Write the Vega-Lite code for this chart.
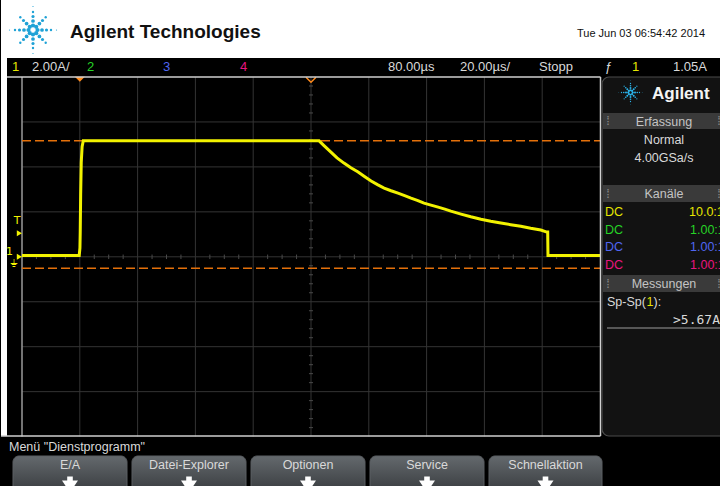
{
  "$schema": "https://vega.github.io/schema/vega-lite/v6.json",
  "width": 720,
  "height": 486,
  "autosize": {"type": "fit", "contains": "padding"},
  "padding": 0,
  "background": "#000000",
  "config": {"view": {"stroke": null}, "font": "Liberation Sans, Arial, sans-serif"},
  "resolve": {"scale": {"x": "independent", "y": "independent", "color": "independent", "size": "independent"}},
  "datasets": {
    "paper": [
      {"x0": 0, "x1": 720, "y0": 0, "y1": 58},
      {"x0": 0, "x1": 6, "y0": 58, "y1": 436}
    ],
    "frame": [
      {"x0": 6, "x1": 599.5, "y0": 77, "y1": 77},
      {"x0": 599.5, "x1": 599.5, "y0": 77, "y1": 436},
      {"x0": 0, "x1": 599.5, "y0": 436, "y1": 436}
    ],
    "gridT": [{"t": 0}, {"t": 20}, {"t": 40}, {"t": 60}, {"t": 80}, {"t": 100}, {"t": 120}, {"t": 140}, {"t": 160}],
    "gridI": [{"i": -6}, {"i": -4}, {"i": -2}, {"i": 0}, {"i": 2}, {"i": 4}, {"i": 6}],
    "ticksT": [
      {"t": -15}, {"t": -10}, {"t": -5}, {"t": 5}, {"t": 10}, {"t": 15}, {"t": 25}, {"t": 30}, {"t": 35},
      {"t": 45}, {"t": 50}, {"t": 55}, {"t": 65}, {"t": 70}, {"t": 75}, {"t": 85}, {"t": 90}, {"t": 95},
      {"t": 105}, {"t": 110}, {"t": 115}, {"t": 125}, {"t": 130}, {"t": 135}, {"t": 145}, {"t": 150},
      {"t": 155}, {"t": 165}, {"t": 170}, {"t": 175}
    ],
    "ticksI": [
      {"i": -7.6}, {"i": -7.2}, {"i": -6.8}, {"i": -6.4}, {"i": -5.6}, {"i": -5.2}, {"i": -4.8}, {"i": -4.4},
      {"i": -3.6}, {"i": -3.2}, {"i": -2.8}, {"i": -2.4}, {"i": -1.6}, {"i": -1.2}, {"i": -0.8}, {"i": -0.4},
      {"i": 0.4}, {"i": 0.8}, {"i": 1.2}, {"i": 1.6}, {"i": 2.4}, {"i": 2.8}, {"i": 3.2}, {"i": 3.6},
      {"i": 4.4}, {"i": 4.8}, {"i": 5.2}, {"i": 5.6}, {"i": 6.4}, {"i": 6.8}, {"i": 7.2}, {"i": 7.6}
    ],
    "cursors": [{"i": 5.16}, {"i": -0.51}],
    "ch1": [
      {"t": -20, "i": 0.06}, {"t": -0.2, "i": 0.06}, {"t": 0.05, "i": 0.4}, {"t": 0.15, "i": 1.1},
      {"t": 0.3, "i": 2.8}, {"t": 0.5, "i": 4.2}, {"t": 0.8, "i": 4.9}, {"t": 1.2, "i": 5.16},
      {"t": 82.8, "i": 5.16}, {"t": 84.5, "i": 4.95}, {"t": 86.9, "i": 4.66}, {"t": 89.0, "i": 4.4},
      {"t": 91.4, "i": 4.17}, {"t": 93.8, "i": 3.96}, {"t": 96.3, "i": 3.77}, {"t": 98.5, "i": 3.57},
      {"t": 100.8, "i": 3.37}, {"t": 103.0, "i": 3.21}, {"t": 105.3, "i": 3.06}, {"t": 107.7, "i": 2.94},
      {"t": 110.1, "i": 2.83}, {"t": 112.4, "i": 2.72}, {"t": 114.6, "i": 2.61}, {"t": 117.0, "i": 2.5},
      {"t": 119.1, "i": 2.39}, {"t": 121.5, "i": 2.3}, {"t": 124.0, "i": 2.21}, {"t": 126.3, "i": 2.12},
      {"t": 128.4, "i": 2.03}, {"t": 131.9, "i": 1.9}, {"t": 135.3, "i": 1.78}, {"t": 138.8, "i": 1.67},
      {"t": 142.2, "i": 1.58}, {"t": 145.7, "i": 1.5}, {"t": 149.1, "i": 1.43}, {"t": 152.6, "i": 1.36},
      {"t": 156.0, "i": 1.27}, {"t": 159.5, "i": 1.19}, {"t": 161.6, "i": 1.1}, {"t": 161.9, "i": 1.1},
      {"t": 162.0, "i": 0.06}, {"t": 180, "i": 0.06}
    ],
    "panel": [{"x0": 601, "x1": 740, "y0": 77, "y1": 436}],
    "panelBars": [
      {"x0": 602, "x1": 740, "y0": 113, "y1": 129},
      {"x0": 602, "x1": 740, "y0": 185, "y1": 202},
      {"x0": 602, "x1": 740, "y0": 275, "y1": 292}
    ],
    "buttons": [
      {"label": "E/A", "x0": 12, "x1": 126, "xc": 69},
      {"label": "Datei-Explorer", "x0": 131, "x1": 245, "xc": 188},
      {"label": "Optionen", "x0": 250, "x1": 364, "xc": 307},
      {"label": "Service", "x0": 369, "x1": 483, "xc": 426},
      {"label": "Schnellaktion", "x0": 488, "x1": 601, "xc": 544.5}
    ],
    "status": [
      {"x": 11, "text": "1", "tone": "1"},
      {"x": 31, "text": "2.00A/", "tone": "ui"},
      {"x": 86, "text": "2", "tone": "2"},
      {"x": 162, "text": "3", "tone": "3"},
      {"x": 239, "text": "4", "tone": "4"},
      {"x": 387, "text": "80.00µs", "tone": "ui"},
      {"x": 459, "text": "20.00µs/", "tone": "ui"},
      {"x": 538, "text": "Stopp", "tone": "ui"},
      {"x": 604, "text": "ƒ", "tone": "ui"},
      {"x": 631, "text": "1", "tone": "1"},
      {"x": 672, "text": "1.05A", "tone": "ui"}
    ],
    "panelL": [
      {"x": 604, "y": 216, "text": "DC", "tone": "1"},
      {"x": 604, "y": 233.5, "text": "DC", "tone": "2"},
      {"x": 604, "y": 251, "text": "DC", "tone": "3"},
      {"x": 604, "y": 268.5, "text": "DC", "tone": "4"},
      {"x": 688, "y": 216, "text": "10.0:1", "tone": "1"},
      {"x": 689, "y": 233.5, "text": "1.00:1", "tone": "2"},
      {"x": 689, "y": 251, "text": "1.00:1", "tone": "3"},
      {"x": 689, "y": 268.5, "text": "1.00:1", "tone": "4"},
      {"x": 606, "y": 306, "text": "Sp-Sp(", "tone": "ui"},
      {"x": 645.5, "y": 306, "text": "1", "tone": "1"},
      {"x": 652.5, "y": 306, "text": "):", "tone": "ui"}
    ],
    "panelC": [
      {"x": 663, "y": 125.5, "text": "Erfassung", "tone": "bar"},
      {"x": 663, "y": 144, "text": "Normal", "tone": "ui"},
      {"x": 663, "y": 161.5, "text": "4.00GSa/s", "tone": "ui"},
      {"x": 663, "y": 198, "text": "Kanäle", "tone": "bar"},
      {"x": 663, "y": 288, "text": "Messungen", "tone": "bar"},
      {"x": 607, "y": 125, "text": "⁞", "tone": "dim"},
      {"x": 718, "y": 125, "text": "⁞", "tone": "dim"},
      {"x": 607, "y": 198, "text": "⁞", "tone": "dim"},
      {"x": 718, "y": 198, "text": "⁞", "tone": "dim"},
      {"x": 607, "y": 288, "text": "⁞", "tone": "dim"},
      {"x": 718, "y": 288, "text": "⁞", "tone": "dim"}
    ],
    "spark": [
      {"dx": 4.5, "dy": 0, "ring": 1}, {"dx": 9, "dy": 0, "ring": 2}, {"dx": 13.5, "dy": 0, "ring": 3}, {"dx": 18, "dy": 0, "ring": 4}, {"dx": 23.5, "dy": 0, "ring": 5},
      {"dx": -4.5, "dy": 0, "ring": 1}, {"dx": -9, "dy": 0, "ring": 2}, {"dx": -13.5, "dy": 0, "ring": 3}, {"dx": -18, "dy": 0, "ring": 4}, {"dx": -23.5, "dy": 0, "ring": 5},
      {"dx": 0, "dy": -4.5, "ring": 1}, {"dx": 0, "dy": -9, "ring": 2}, {"dx": 0, "dy": -13.5, "ring": 3}, {"dx": 0, "dy": -18, "ring": 4}, {"dx": 0, "dy": -23.5, "ring": 5},
      {"dx": 0, "dy": 4.5, "ring": 1}, {"dx": 0, "dy": 9, "ring": 2}, {"dx": 0, "dy": 13.5, "ring": 3}, {"dx": 0, "dy": 18, "ring": 4}, {"dx": 0, "dy": 23.5, "ring": 5},
      {"dx": 3.2, "dy": -3.2, "ring": 1}, {"dx": 6.4, "dy": -6.4, "ring": 2}, {"dx": 9.5, "dy": -9.5, "ring": 3}, {"dx": 12.7, "dy": -12.7, "ring": 4},
      {"dx": -3.2, "dy": -3.2, "ring": 1}, {"dx": -6.4, "dy": -6.4, "ring": 2}, {"dx": -9.5, "dy": -9.5, "ring": 3}, {"dx": -12.7, "dy": -12.7, "ring": 4},
      {"dx": 3.2, "dy": 3.2, "ring": 1}, {"dx": 6.4, "dy": 6.4, "ring": 2}, {"dx": 9.5, "dy": 9.5, "ring": 3}, {"dx": 12.7, "dy": 12.7, "ring": 4},
      {"dx": -3.2, "dy": 3.2, "ring": 1}, {"dx": -6.4, "dy": 6.4, "ring": 2}, {"dx": -9.5, "dy": 9.5, "ring": 3}, {"dx": -12.7, "dy": 12.7, "ring": 4}
    ]
  },
  "layer": [
    {
      "data": {"name": "paper"},
      "mark": {"type": "rect", "fill": "#ffffff"},
      "encoding": {
        "x": {"field": "x0", "type": "quantitative", "scale": {"domain": [0, 720], "range": [0, 720], "nice": false, "zero": false}, "axis": null},
        "x2": {"field": "x1"},
        "y": {"field": "y0", "type": "quantitative", "scale": {"domain": [0, 486], "range": [0, 486], "nice": false, "zero": false}, "axis": null},
        "y2": {"field": "y1"}
      }
    },
    {
      "data": {"name": "gridT"},
      "mark": {"type": "rule", "color": "#343434", "strokeWidth": 1},
      "encoding": {
        "x": {"field": "t", "type": "quantitative", "scale": {"domain": [-20, 180], "range": [21, 599], "nice": false, "zero": false}, "axis": null},
        "y": {"datum": -8, "type": "quantitative", "scale": {"domain": [-8, 8], "range": [436.6, 77], "nice": false, "zero": false}, "axis": null},
        "y2": {"datum": 8}
      }
    },
    {
      "data": {"name": "gridI"},
      "mark": {"type": "rule", "color": "#343434", "strokeWidth": 1},
      "encoding": {
        "x": {"datum": -20, "type": "quantitative", "scale": {"domain": [-20, 180], "range": [21, 599], "nice": false, "zero": false}, "axis": null},
        "x2": {"datum": 180},
        "y": {"field": "i", "type": "quantitative", "scale": {"domain": [-8, 8], "range": [436.6, 77], "nice": false, "zero": false}, "axis": null}
      }
    },
    {
      "data": {"name": "ticksT"},
      "mark": {"type": "rule", "color": "#4a4a4a", "strokeWidth": 1},
      "encoding": {
        "x": {"field": "t", "type": "quantitative", "scale": {"domain": [-20, 180], "range": [21, 599], "nice": false, "zero": false}, "axis": null},
        "y": {"datum": -0.1, "type": "quantitative", "scale": {"domain": [-8, 8], "range": [436.6, 77], "nice": false, "zero": false}, "axis": null},
        "y2": {"datum": 0.1}
      }
    },
    {
      "data": {"name": "ticksI"},
      "mark": {"type": "rule", "color": "#4a4a4a", "strokeWidth": 1},
      "encoding": {
        "x": {"datum": 79.3, "type": "quantitative", "scale": {"domain": [-20, 180], "range": [21, 599], "nice": false, "zero": false}, "axis": null},
        "x2": {"datum": 80.7},
        "y": {"field": "i", "type": "quantitative", "scale": {"domain": [-8, 8], "range": [436.6, 77], "nice": false, "zero": false}, "axis": null}
      }
    },
    {
      "data": {"values": [{}]},
      "mark": {"type": "rule", "color": "#9a9a9a", "strokeWidth": 1.5},
      "encoding": {
        "x": {"datum": -20, "type": "quantitative", "scale": {"domain": [-20, 180], "range": [21, 599], "nice": false, "zero": false}, "axis": null},
        "y": {"datum": -8, "type": "quantitative", "scale": {"domain": [-8, 8], "range": [436.6, 77], "nice": false, "zero": false}, "axis": null},
        "y2": {"datum": 8}
      }
    },
    {
      "data": {"name": "cursors"},
      "mark": {"type": "rule", "color": "#e4700a", "strokeWidth": 1.5, "strokeDash": [9, 4]},
      "encoding": {
        "x": {"datum": -20, "type": "quantitative", "scale": {"domain": [-20, 180], "range": [21, 599], "nice": false, "zero": false}, "axis": null},
        "x2": {"datum": 180},
        "y": {"field": "i", "type": "quantitative", "scale": {"domain": [-8, 8], "range": [436.6, 77], "nice": false, "zero": false}, "axis": null}
      }
    },
    {
      "data": {"name": "ch1"},
      "mark": {"type": "line", "color": "#f2f200", "strokeWidth": 3},
      "encoding": {
        "x": {"field": "t", "type": "quantitative", "scale": {"domain": [-20, 180], "range": [21, 599], "nice": false, "zero": false}, "axis": null},
        "y": {"field": "i", "type": "quantitative", "scale": {"domain": [-8, 8], "range": [436.6, 77], "nice": false, "zero": false}, "axis": null}
      }
    },
    {
      "data": {"values": [{}]},
      "mark": {"type": "point", "shape": "M -1 -0.5 L 1 -0.5 L 0 0.5 Z", "filled": true, "fill": "#ff8a1c", "opacity": 1, "size": 100, "strokeWidth": 0},
      "encoding": {
        "x": {"datum": 0, "type": "quantitative", "scale": {"domain": [-20, 180], "range": [21, 599], "nice": false, "zero": false}, "axis": null},
        "y": {"datum": 7.9, "type": "quantitative", "scale": {"domain": [-8, 8], "range": [436.6, 77], "nice": false, "zero": false}, "axis": null}
      }
    },
    {
      "data": {"values": [{}]},
      "mark": {"type": "point", "shape": "M -1 -0.5 L 0 0.5 L 1 -0.5", "filled": false, "stroke": "#ff8a1c", "opacity": 1, "size": 100, "strokeWidth": 1.5},
      "encoding": {
        "x": {"datum": 80, "type": "quantitative", "scale": {"domain": [-20, 180], "range": [21, 599], "nice": false, "zero": false}, "axis": null},
        "y": {"datum": 7.88, "type": "quantitative", "scale": {"domain": [-8, 8], "range": [436.6, 77], "nice": false, "zero": false}, "axis": null}
      }
    },
    {
      "data": {"values": [{"level": 1.05}, {"level": 0}]},
      "mark": {"type": "point", "shape": "triangle-right", "filled": true, "fill": "#f2f200", "opacity": 1, "size": 36, "strokeWidth": 0},
      "encoding": {
        "x": {"datum": -20.9, "type": "quantitative", "scale": {"domain": [-20, 180], "range": [21, 599], "nice": false, "zero": false}, "axis": null},
        "y": {"field": "level", "type": "quantitative", "scale": {"domain": [-8, 8], "range": [436.6, 77], "nice": false, "zero": false}, "axis": null}
      }
    },
    {
      "data": {"values": [{"label": "T", "t": -21.7, "i": 1.6}, {"label": "1", "t": -24.3, "i": 0.2}, {"label": "⏚", "t": -22.7, "i": -0.3}]},
      "mark": {"type": "text", "color": "#f2f200", "fontSize": 11, "align": "center", "baseline": "middle", "font": "DejaVu Sans"},
      "encoding": {
        "x": {"field": "t", "type": "quantitative", "scale": {"domain": [-20, 180], "range": [21, 599], "nice": false, "zero": false}, "axis": null},
        "y": {"field": "i", "type": "quantitative", "scale": {"domain": [-8, 8], "range": [436.6, 77], "nice": false, "zero": false}, "axis": null},
        "text": {"field": "label"}
      }
    },
    {
      "data": {"name": "frame"},
      "mark": {"type": "rule", "color": "#cfcfcf", "strokeWidth": 1.5},
      "encoding": {
        "x": {"field": "x0", "type": "quantitative", "scale": {"domain": [0, 720], "range": [0, 720], "nice": false, "zero": false}, "axis": null},
        "x2": {"field": "x1"},
        "y": {"field": "y0", "type": "quantitative", "scale": {"domain": [0, 486], "range": [0, 486], "nice": false, "zero": false}, "axis": null},
        "y2": {"field": "y1"}
      }
    },
    {
      "data": {"name": "panel"},
      "mark": {"type": "rect", "fill": "#121212", "stroke": "#4a4a4a", "strokeWidth": 1.2, "cornerRadius": 7},
      "encoding": {
        "x": {"field": "x0", "type": "quantitative", "scale": {"domain": [0, 720], "range": [0, 720], "nice": false, "zero": false}, "axis": null},
        "x2": {"field": "x1"},
        "y": {"field": "y0", "type": "quantitative", "scale": {"domain": [0, 486], "range": [0, 486], "nice": false, "zero": false}, "axis": null},
        "y2": {"field": "y1"}
      }
    },
    {
      "data": {"name": "panelBars"},
      "mark": {"type": "rect", "fill": "#3a3a3a"},
      "encoding": {
        "x": {"field": "x0", "type": "quantitative", "scale": {"domain": [0, 720], "range": [0, 720], "nice": false, "zero": false}, "axis": null},
        "x2": {"field": "x1"},
        "y": {"field": "y0", "type": "quantitative", "scale": {"domain": [0, 486], "range": [0, 486], "nice": false, "zero": false}, "axis": null},
        "y2": {"field": "y1"}
      }
    },
    {
      "data": {"values": [{}]},
      "mark": {"type": "rule", "color": "#9c9c9c", "strokeWidth": 1.2},
      "encoding": {
        "x": {"datum": 606, "type": "quantitative", "scale": {"domain": [0, 720], "range": [0, 720], "nice": false, "zero": false}, "axis": null},
        "x2": {"datum": 720},
        "y": {"datum": 328, "type": "quantitative", "scale": {"domain": [0, 486], "range": [0, 486], "nice": false, "zero": false}, "axis": null}
      }
    },
    {
      "data": {"name": "buttons"},
      "mark": {
        "type": "rect", "cornerRadius": 6, "stroke": "#5a5e62", "strokeWidth": 1,
        "fill": {"gradient": "linear", "x1": 0, "y1": 0, "x2": 0, "y2": 1, "stops": [{"offset": 0, "color": "#64696d"}, {"offset": 1, "color": "#2f3235"}]}
      },
      "encoding": {
        "x": {"field": "x0", "type": "quantitative", "scale": {"domain": [0, 720], "range": [0, 720], "nice": false, "zero": false}, "axis": null},
        "x2": {"field": "x1"},
        "y": {"datum": 456, "type": "quantitative", "scale": {"domain": [0, 486], "range": [0, 486], "nice": false, "zero": false}, "axis": null},
        "y2": {"datum": 500}
      }
    },
    {
      "data": {"name": "buttons"},
      "mark": {"type": "text", "color": "#d9d9d9", "fontSize": 12.5, "align": "center", "baseline": "alphabetic"},
      "encoding": {
        "x": {"field": "xc", "type": "quantitative", "scale": {"domain": [0, 720], "range": [0, 720], "nice": false, "zero": false}, "axis": null},
        "y": {"datum": 469, "type": "quantitative", "scale": {"domain": [0, 486], "range": [0, 486], "nice": false, "zero": false}, "axis": null},
        "text": {"field": "label"}
      }
    },
    {
      "data": {"name": "buttons"},
      "mark": {"type": "point", "shape": "M -0.35 -1 L 0.35 -1 L 0.35 -0.5 L 1 -0.5 L 0 1 L -1 -0.5 L -0.35 -0.5 Z", "filled": true, "fill": "#ffffff", "opacity": 1, "size": 256, "strokeWidth": 0},
      "encoding": {
        "x": {"field": "xc", "type": "quantitative", "scale": {"domain": [0, 720], "range": [0, 720], "nice": false, "zero": false}, "axis": null},
        "y": {"datum": 484.5, "type": "quantitative", "scale": {"domain": [0, 486], "range": [0, 486], "nice": false, "zero": false}, "axis": null}
      }
    },
    {
      "data": {"name": "status"},
      "mark": {"type": "text", "fontSize": 13, "align": "left", "baseline": "alphabetic"},
      "encoding": {
        "x": {"field": "x", "type": "quantitative", "scale": {"domain": [0, 720], "range": [0, 720], "nice": false, "zero": false}, "axis": null},
        "y": {"datum": 71, "type": "quantitative", "scale": {"domain": [0, 486], "range": [0, 486], "nice": false, "zero": false}, "axis": null},
        "text": {"field": "text"},
        "color": {"field": "tone", "type": "nominal", "scale": {"domain": ["1", "2", "3", "4", "ui", "bar", "dim"], "range": ["#e6e600", "#26d326", "#5066f0", "#e8157f", "#d9d9d9", "#c4c4c4", "#8a8a8a"]}, "legend": null}
      }
    },
    {
      "data": {"name": "panelL"},
      "mark": {"type": "text", "fontSize": 12.5, "align": "left", "baseline": "alphabetic"},
      "encoding": {
        "x": {"field": "x", "type": "quantitative", "scale": {"domain": [0, 720], "range": [0, 720], "nice": false, "zero": false}, "axis": null},
        "y": {"field": "y", "type": "quantitative", "scale": {"domain": [0, 486], "range": [0, 486], "nice": false, "zero": false}, "axis": null},
        "text": {"field": "text"},
        "color": {"field": "tone", "type": "nominal", "scale": {"domain": ["1", "2", "3", "4", "ui", "bar", "dim"], "range": ["#e6e600", "#26d326", "#5066f0", "#e8157f", "#d9d9d9", "#c4c4c4", "#8a8a8a"]}, "legend": null}
      }
    },
    {
      "data": {"name": "panelC"},
      "mark": {"type": "text", "fontSize": 12.5, "align": "center", "baseline": "alphabetic"},
      "encoding": {
        "x": {"field": "x", "type": "quantitative", "scale": {"domain": [0, 720], "range": [0, 720], "nice": false, "zero": false}, "axis": null},
        "y": {"field": "y", "type": "quantitative", "scale": {"domain": [0, 486], "range": [0, 486], "nice": false, "zero": false}, "axis": null},
        "text": {"field": "text"},
        "color": {"field": "tone", "type": "nominal", "scale": {"domain": ["1", "2", "3", "4", "ui", "bar", "dim"], "range": ["#e6e600", "#26d326", "#5066f0", "#e8157f", "#d9d9d9", "#c4c4c4", "#8a8a8a"]}, "legend": null}
      }
    },
    {
      "data": {"values": [{}]},
      "mark": {"type": "text", "text": ">5.67A", "font": "DejaVu Sans Mono", "fontSize": 13, "color": "#d9d9d9", "align": "right", "baseline": "alphabetic"},
      "encoding": {
        "x": {"datum": 719, "type": "quantitative", "scale": {"domain": [0, 720], "range": [0, 720], "nice": false, "zero": false}, "axis": null},
        "y": {"datum": 324, "type": "quantitative", "scale": {"domain": [0, 486], "range": [0, 486], "nice": false, "zero": false}, "axis": null}
      }
    },
    {
      "data": {"values": [{}]},
      "mark": {"type": "text", "text": "Menü \"Dienstprogramm\"", "fontSize": 12.5, "color": "#d9d9d9", "align": "left", "baseline": "alphabetic"},
      "encoding": {
        "x": {"datum": 8, "type": "quantitative", "scale": {"domain": [0, 720], "range": [0, 720], "nice": false, "zero": false}, "axis": null},
        "y": {"datum": 451, "type": "quantitative", "scale": {"domain": [0, 486], "range": [0, 486], "nice": false, "zero": false}, "axis": null}
      }
    },
    {
      "data": {"values": [{}]},
      "mark": {"type": "text", "text": "Agilent Technologies", "fontSize": 19, "fontWeight": "bold", "color": "#111111", "align": "left", "baseline": "alphabetic"},
      "encoding": {
        "x": {"datum": 69, "type": "quantitative", "scale": {"domain": [0, 720], "range": [0, 720], "nice": false, "zero": false}, "axis": null},
        "y": {"datum": 38, "type": "quantitative", "scale": {"domain": [0, 486], "range": [0, 486], "nice": false, "zero": false}, "axis": null}
      }
    },
    {
      "data": {"values": [{}]},
      "mark": {"type": "text", "text": "Tue Jun 03 06:54:42 2014", "fontSize": 11, "color": "#111111", "align": "right", "baseline": "alphabetic"},
      "encoding": {
        "x": {"datum": 704, "type": "quantitative", "scale": {"domain": [0, 720], "range": [0, 720], "nice": false, "zero": false}, "axis": null},
        "y": {"datum": 36.5, "type": "quantitative", "scale": {"domain": [0, 486], "range": [0, 486], "nice": false, "zero": false}, "axis": null}
      }
    },
    {
      "data": {"values": [{}]},
      "mark": {"type": "text", "text": "Agilent", "fontSize": 17, "fontWeight": "bold", "color": "#f4f4f4", "align": "left", "baseline": "alphabetic"},
      "encoding": {
        "x": {"datum": 651, "type": "quantitative", "scale": {"domain": [0, 720], "range": [0, 720], "nice": false, "zero": false}, "axis": null},
        "y": {"datum": 99, "type": "quantitative", "scale": {"domain": [0, 486], "range": [0, 486], "nice": false, "zero": false}, "axis": null}
      }
    },
    {
      "data": {"name": "spark"},
      "mark": {"type": "circle", "color": "#1fa2d6", "opacity": 1},
      "encoding": {
        "x": {"field": "dx", "type": "quantitative", "scale": {"domain": [-25, 25], "range": [7, 57], "nice": false, "zero": false}, "axis": null},
        "y": {"field": "dy", "type": "quantitative", "scale": {"domain": [-25, 25], "range": [5, 55], "nice": false, "zero": false}, "axis": null},
        "size": {"field": "ring", "type": "quantitative", "scale": {"domain": [1, 5], "range": [18, 1.5], "zero": false}, "legend": null}
      }
    },
    {
      "data": {"name": "spark"},
      "mark": {"type": "circle", "color": "#2ab3ea", "opacity": 1},
      "encoding": {
        "x": {"field": "dx", "type": "quantitative", "scale": {"domain": [-25, 25], "range": [617, 642], "nice": false, "zero": false}, "axis": null},
        "y": {"field": "dy", "type": "quantitative", "scale": {"domain": [-25, 25], "range": [80, 105], "nice": false, "zero": false}, "axis": null},
        "size": {"field": "ring", "type": "quantitative", "scale": {"domain": [1, 5], "range": [5, 0.5], "zero": false}, "legend": null}
      }
    }
  ]
}
